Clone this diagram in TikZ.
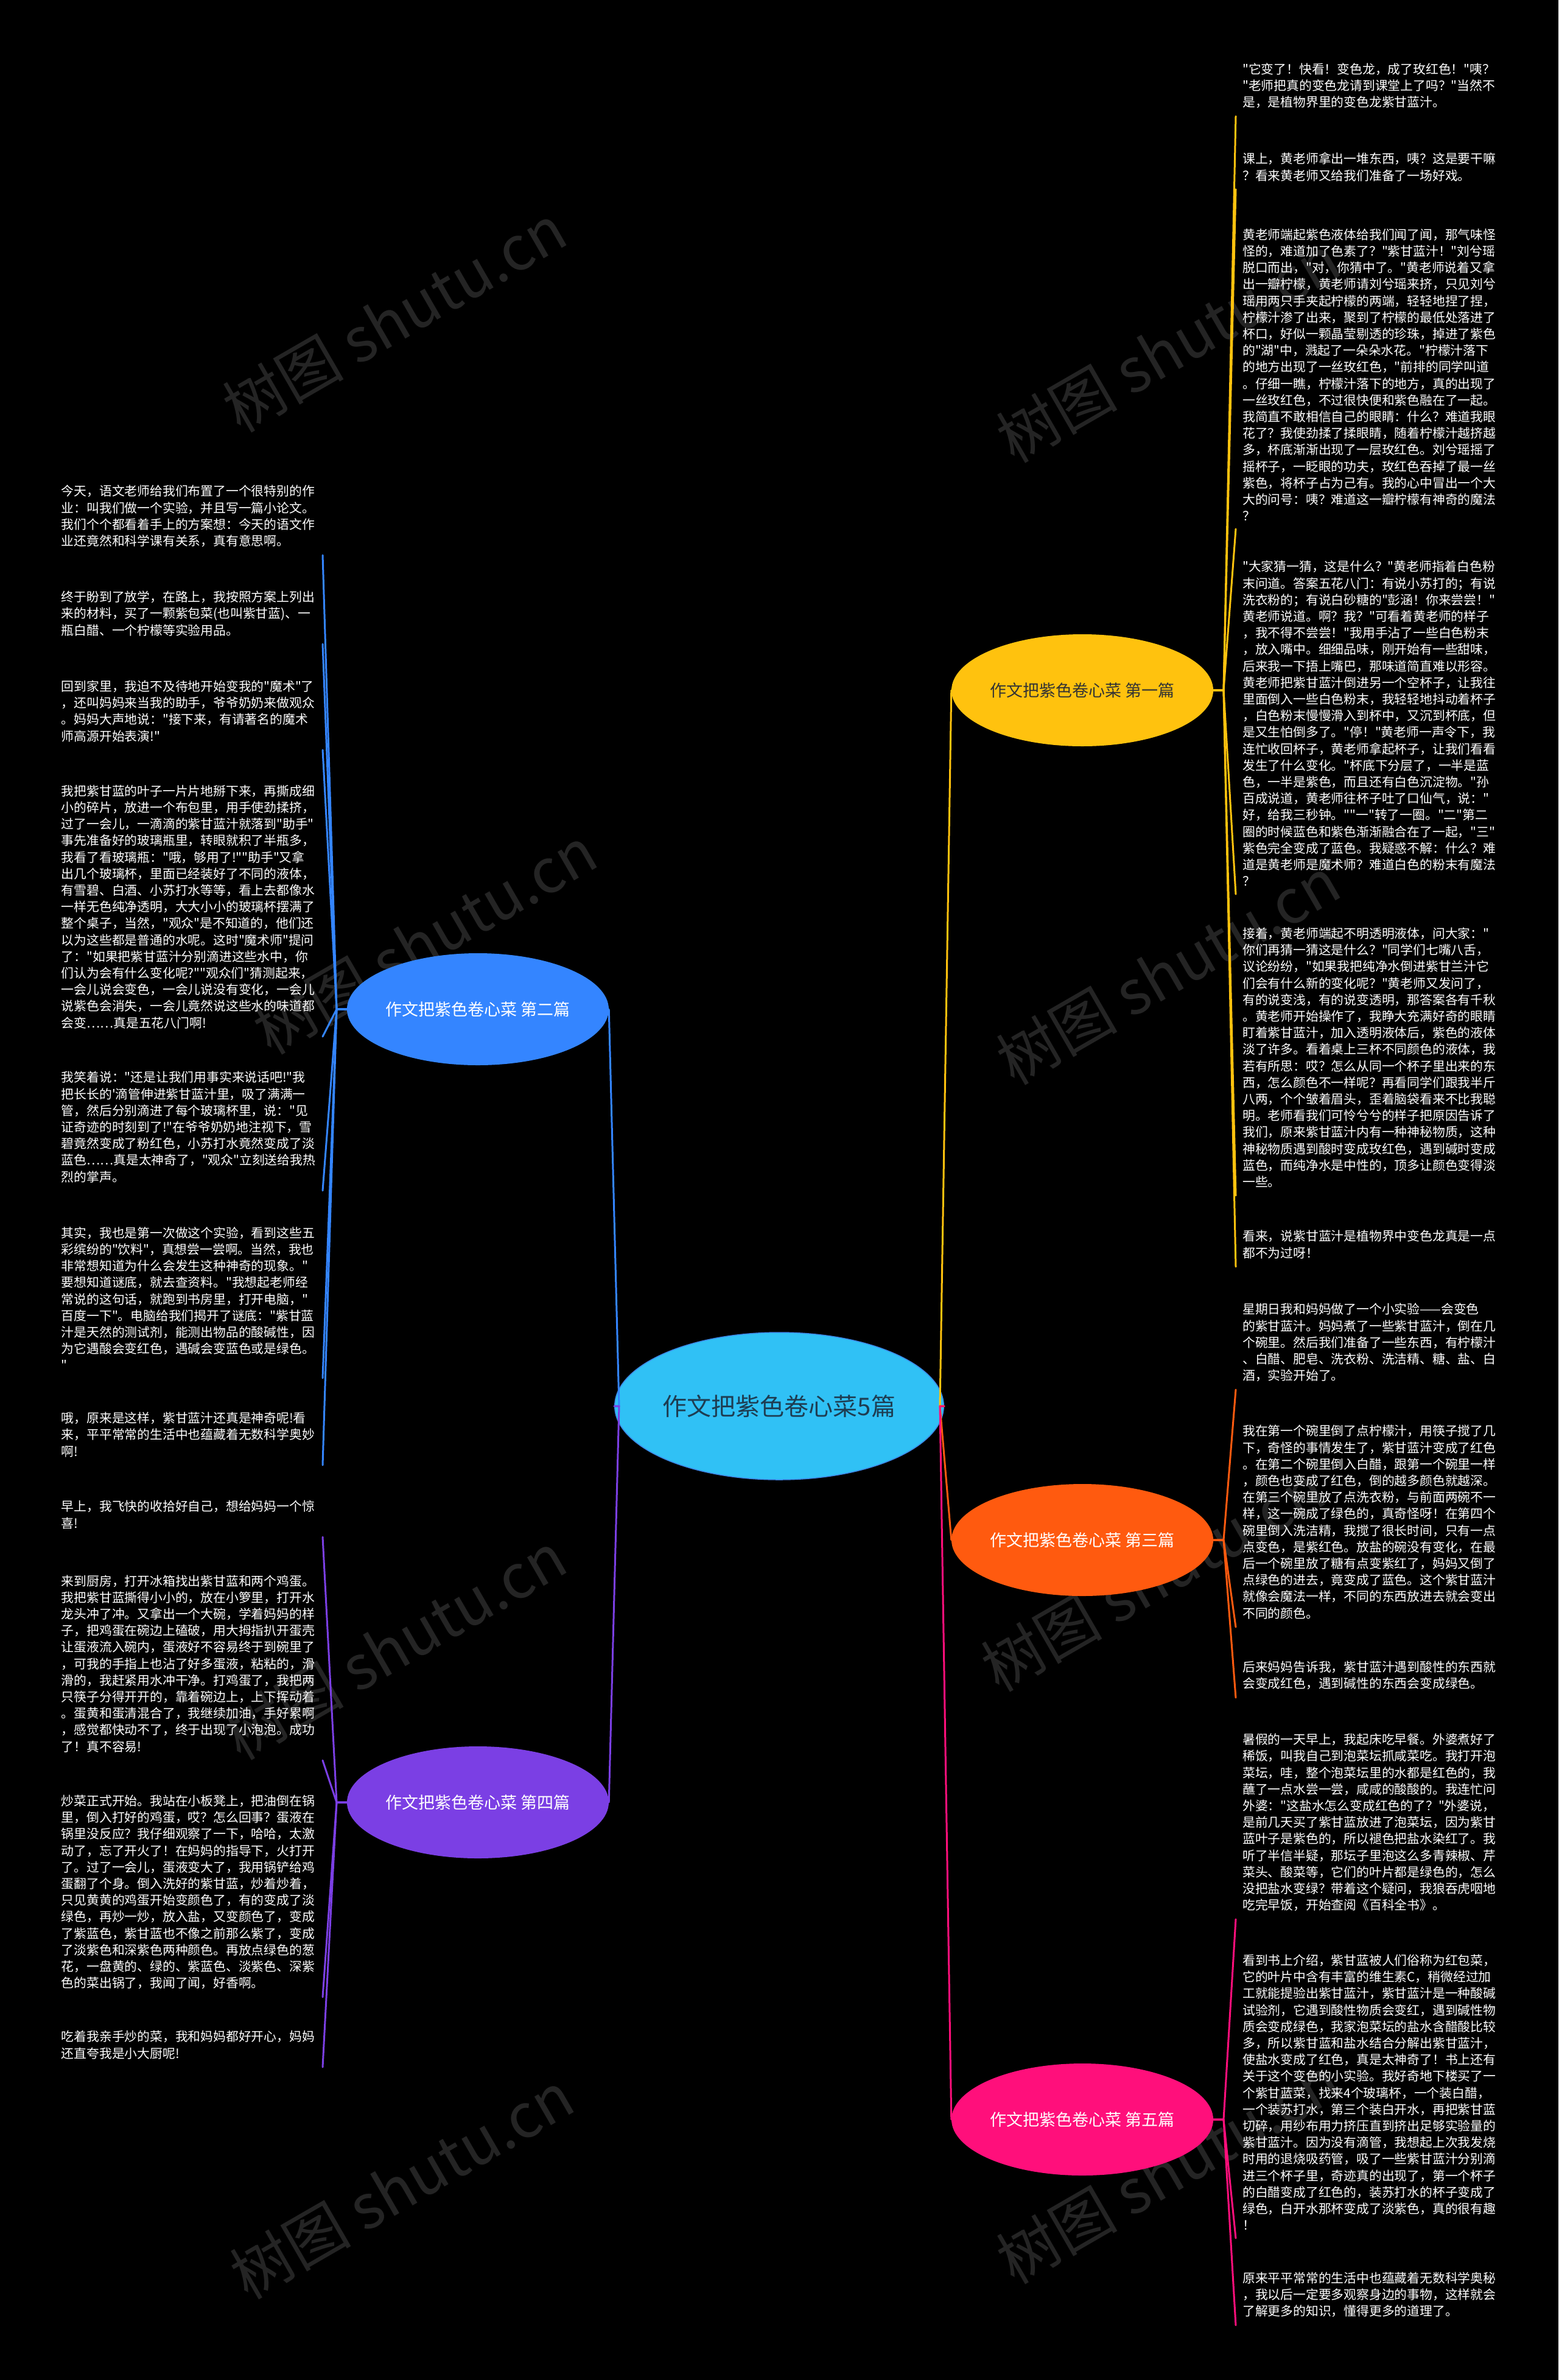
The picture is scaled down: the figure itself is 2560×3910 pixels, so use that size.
\documentclass[tikz,border=0pt]{standalone}
\usepackage{fontspec}
\newfontfamily\cjk{Noto Sans CJK SC}
\usetikzlibrary{shapes.geometric}
\definecolor{cyel}{HTML}{FFC20E}
\definecolor{corg}{HTML}{FF5A0F}
\definecolor{cpnk}{HTML}{FF0F7B}
\definecolor{cblu}{HTML}{3485FF}
\definecolor{cpur}{HTML}{7B3FE4}
\definecolor{croot}{HTML}{30C1F5}
\definecolor{crootb}{HTML}{3C87E6}
\definecolor{ctxt}{HTML}{1E3D52}
\definecolor{cdark}{HTML}{333333}
\definecolor{wmc}{RGB}{36,36,36}
\tikzset{
  leafR/.style={anchor=south west, text width=423pt, inner xsep=11pt, inner ysep=13pt,
    align=left, text=white, font=\cjk\fontsize{20.8}{27.2}\selectfont},
  leafL/.style={leafR, anchor=south east, inner xsep=6pt},
  topic/.style={ellipse, minimum width=430pt, minimum height=184pt, inner sep=0pt,
    font=\cjk\fontsize{27}{32}\selectfont},
  link/.style={line width=3pt, line join=round, line cap=round},
  wmark/.style={text=wmc, rotate=30, font=\cjk\fontsize{100}{100}\selectfont}
}
\begin{document}
\begin{tikzpicture}[x=1pt,y=-1pt]
\useasboundingbox (0,0) rectangle (2560,3910);
\fill[black] (0,0) rectangle (2560,3910);
% watermarks
\node[wmark] (wm1) at (648,523) {树图 shutu.cn};
\node[wmark] (wm2) at (1919,573) {树图 shutu.cn};
\node[wmark] (wm3) at (698,1545) {树图 shutu.cn};
\node[wmark] (wm4) at (1919,1595) {树图 shutu.cn};
\node[wmark] (wm5) at (648,2704) {树图 shutu.cn};
\node[wmark] (wm6) at (1894,2592) {树图 shutu.cn};
\node[wmark] (wm7) at (660,3590) {树图 shutu.cn};
\node[wmark] (wm8) at (1919,3565) {树图 shutu.cn};

% root and topics
\node[ellipse, fill=croot, draw=crootb, line width=1.5pt, minimum width=490pt, minimum height=242pt,
  inner sep=0pt, text=ctxt, font=\cjk\fontsize{40}{44}\selectfont] (root) at (1280,2310) {作文把紫色卷心菜5篇};
\node[topic, fill=cyel, text=cdark] (b1) at (1778,1134) {作文把紫色卷心菜 第一篇};
\node[topic, fill=corg, text=white] (b3) at (1778,2530) {作文把紫色卷心菜 第三篇};
\node[topic, fill=cpnk, text=white] (b5) at (1778,3482) {作文把紫色卷心菜 第五篇};
\node[topic, fill=cblu, text=white] (b2) at (785,1658) {作文把紫色卷心菜 第二篇};
\node[topic, fill=cpur, text=white] (b4) at (785,2961) {作文把紫色卷心菜 第四篇};

% ---------- 第一篇 leaves
\node[leafR] (r1a) at (2030,191) {"它变了！快看！变色龙，成了玫红色！"咦？\\
"老师把真的变色龙请到课堂上了吗？"当然不\\
是，是植物界里的变色龙紫甘蓝汁。};
\node[leafR] (r1b) at (2030,311) {课上，黄老师拿出一堆东西，咦？这是要干嘛\\
？看来黄老师又给我们准备了一场好戏。};
\node[leafR] (r1c) at (2030,869) {黄老师端起紫色液体给我们闻了闻，那气味怪\\
怪的，难道加了色素了？"紫甘蓝汁！"刘兮瑶\\
脱口而出，"对，你猜中了。"黄老师说着又拿\\
出一瓣柠檬，黄老师请刘兮瑶来挤，只见刘兮\\
瑶用两只手夹起柠檬的两端，轻轻地捏了捏，\\
柠檬汁渗了出来，聚到了柠檬的最低处落进了\\
杯口，好似一颗晶莹剔透的珍珠，掉进了紫色\\
的"湖"中，溅起了一朵朵水花。"柠檬汁落下\\
的地方出现了一丝玫红色，"前排的同学叫道\\
。仔细一瞧，柠檬汁落下的地方，真的出现了\\
一丝玫红色，不过很快便和紫色融在了一起。\\
我简直不敢相信自己的眼睛：什么？难道我眼\\
花了？我使劲揉了揉眼睛，随着柠檬汁越挤越\\
多，杯底渐渐出现了一层玫红色。刘兮瑶摇了\\
摇杯子，一眨眼的功夫，玫红色吞掉了最一丝\\
紫色，将杯子占为己有。我的心中冒出一个大\\
大的问号：咦？难道这一瓣柠檬有神奇的魔法\\
？};
\node[leafR] (r1d) at (2030,1469) {"大家猜一猜，这是什么？"黄老师指着白色粉\\
末问道。答案五花八门：有说小苏打的；有说\\
洗衣粉的；有说白砂糖的"彭涵！你来尝尝！"\\
黄老师说道。啊？我？"可看着黄老师的样子\\
，我不得不尝尝！"我用手沾了一些白色粉末\\
，放入嘴中。细细品味，刚开始有一些甜味，\\
后来我一下捂上嘴巴，那味道简直难以形容。\\
黄老师把紫甘蓝汁倒进另一个空杯子，让我往\\
里面倒入一些白色粉末，我轻轻地抖动着杯子\\
，白色粉末慢慢滑入到杯中，又沉到杯底，但\\
是又生怕倒多了。"停！"黄老师一声令下，我\\
连忙收回杯子，黄老师拿起杯子，让我们看看\\
发生了什么变化。"杯底下分层了，一半是蓝\\
色，一半是紫色，而且还有白色沉淀物。"孙\\
百成说道，黄老师往杯子吐了口仙气，说："\\
好，给我三秒钟。""一"转了一圈。"二"第二\\
圈的时候蓝色和紫色渐渐融合在了一起，"三"\\
紫色完全变成了蓝色。我疑惑不解：什么？难\\
道是黄老师是魔术师？难道白色的粉末有魔法\\
？};
\node[leafR] (r1e) at (2030,1964) {接着，黄老师端起不明透明液体，问大家："\\
你们再猜一猜这是什么？"同学们七嘴八舌，\\
议论纷纷，"如果我把纯净水倒进紫甘兰汁它\\
们会有什么新的变化呢？"黄老师又发问了，\\
有的说变浅，有的说变透明，那答案各有千秋\\
。黄老师开始操作了，我睁大充满好奇的眼睛\\
盯着紫甘蓝汁，加入透明液体后，紫色的液体\\
淡了许多。看着桌上三杯不同颜色的液体，我\\
若有所思：哎？怎么从同一个杯子里出来的东\\
西，怎么颜色不一样呢？再看同学们跟我半斤\\
八两，个个皱着眉头，歪着脑袋看来不比我聪\\
明。老师看我们可怜兮兮的样子把原因告诉了\\
我们，原来紫甘蓝汁内有一种神秘物质，这种\\
神秘物质遇到酸时变成玫红色，遇到碱时变成\\
蓝色，而纯净水是中性的，顶多让颜色变得淡\\
一些。};
\node[leafR] (r1f) at (2030,2081) {看来，说紫甘蓝汁是植物界中变色龙真是一点\\
都不为过呀！};

% ---------- 第三篇 leaves
\node[leafR] (r3a) at (2030,2283) {星期日我和妈妈做了一个小实验——会变色\\
的紫甘蓝汁。妈妈煮了一些紫甘蓝汁，倒在几\\
个碗里。然后我们准备了一些东西，有柠檬汁\\
、白醋、肥皂、洗衣粉、洗洁精、糖、盐、白\\
酒，实验开始了。};
\node[leafR] (r3b) at (2030,2673) {我在第一个碗里倒了点柠檬汁，用筷子搅了几\\
下，奇怪的事情发生了，紫甘蓝汁变成了红色\\
。在第二个碗里倒入白醋，跟第一个碗里一样\\
，颜色也变成了红色，倒的越多颜色就越深。\\
在第三个碗里放了点洗衣粉，与前面两碗不一\\
样，这一碗成了绿色的，真奇怪呀！在第四个\\
碗里倒入洗洁精，我搅了很长时间，只有一点\\
点变色，是紫红色。放盐的碗没有变化，在最\\
后一个碗里放了糖有点变紫红了，妈妈又倒了\\
点绿色的进去，竟变成了蓝色。这个紫甘蓝汁\\
就像会魔法一样，不同的东西放进去就会变出\\
不同的颜色。};
\node[leafR] (r3c) at (2030,2789) {后来妈妈告诉我，紫甘蓝汁遇到酸性的东西就\\
会变成红色，遇到碱性的东西会变成绿色。};

% ---------- 第五篇 leaves
\node[leafR] (r5a) at (2030,3153) {暑假的一天早上，我起床吃早餐。外婆煮好了\\
稀饭，叫我自己到泡菜坛抓咸菜吃。我打开泡\\
菜坛，哇，整个泡菜坛里的水都是红色的，我\\
蘸了一点水尝一尝，咸咸的酸酸的。我连忙问\\
外婆："这盐水怎么变成红色的了？"外婆说，\\
是前几天买了紫甘蓝放进了泡菜坛，因为紫甘\\
蓝叶子是紫色的，所以褪色把盐水染红了。我\\
听了半信半疑，那坛子里泡这么多青辣椒、芹\\
菜头、酸菜等，它们的叶片都是绿色的，怎么\\
没把盐水变绿？带着这个疑问，我狼吞虎咽地\\
吃完早饭，开始查阅《百科全书》。};
\node[leafR] (r5b) at (2030,3677) {看到书上介绍，紫甘蓝被人们俗称为红包菜，\\
它的叶片中含有丰富的维生素C，稍微经过加\\
工就能提验出紫甘蓝汁，紫甘蓝汁是一种酸碱\\
试验剂，它遇到酸性物质会变红，遇到碱性物\\
质会变成绿色，我家泡菜坛的盐水含醋酸比较\\
多，所以紫甘蓝和盐水结合分解出紫甘蓝汁，\\
使盐水变成了红色，真是太神奇了！书上还有\\
关于这个变色的小实验。我好奇地下楼买了一\\
个紫甘蓝菜，找来4个玻璃杯，一个装白醋，\\
一个装苏打水，第三个装白开水，再把紫甘蓝\\
切碎，用纱布用力挤压直到挤出足够实验量的\\
紫甘蓝汁。因为没有滴管，我想起上次我发烧\\
时用的退烧吸药管，吸了一些紫甘蓝汁分别滴\\
进三个杯子里，奇迹真的出现了，第一个杯子\\
的白醋变成了红色的，装苏打水的杯子变成了\\
绿色，白开水那杯变成了淡紫色，真的很有趣\\
！};
\node[leafR] (r5c) at (2030,3820) {原来平平常常的生活中也蕴藏着无数科学奥秘\\
，我以后一定要多观察身边的事物，这样就会\\
了解更多的知识，懂得更多的道理了。};

% ---------- 第二篇 leaves
\node[leafL] (l2a) at (530,912) {今天，语文老师给我们布置了一个很特别的作\\
业：叫我们做一个实验，并且写一篇小论文。\\
我们个个都看着手上的方案想：今天的语文作\\
业还竟然和科学课有关系，真有意思啊。};
\node[leafL] (l2b) at (530,1058) {终于盼到了放学，在路上，我按照方案上列出\\
来的材料，买了一颗紫包菜(也叫紫甘蓝)、一\\
瓶白醋、一个柠檬等实验用品。};
\node[leafL] (l2c) at (530,1232) {回到家里，我迫不及待地开始变我的"魔术"了\\
，还叫妈妈来当我的助手，爷爷奶奶来做观众\\
。妈妈大声地说："接下来，有请著名的魔术\\
师高源开始表演!"};
\node[leafL] (l2d) at (530,1703) {我把紫甘蓝的叶子一片片地掰下来，再撕成细\\
小的碎片，放进一个布包里，用手使劲揉挤，\\
过了一会儿，一滴滴的紫甘蓝汁就落到"助手"\\
事先准备好的玻璃瓶里，转眼就积了半瓶多，\\
我看了看玻璃瓶："哦，够用了!""助手"又拿\\
出几个玻璃杯，里面已经装好了不同的液体，\\
有雪碧、白酒、小苏打水等等，看上去都像水\\
一样无色纯净透明，大大小小的玻璃杯摆满了\\
整个桌子，当然，"观众"是不知道的，他们还\\
以为这些都是普通的水呢。这时"魔术师"提问\\
了："如果把紫甘蓝汁分别滴进这些水中，你\\
们认为会有什么变化呢?""观众们"猜测起来，\\
一会儿说会变色，一会儿说没有变化，一会儿\\
说紫色会消失，一会儿竟然说这些水的味道都\\
会变……真是五花八门啊!};
\node[leafL] (l2e) at (530,1956) {我笑着说："还是让我们用事实来说话吧!"我\\
把长长的'滴管伸进紫甘蓝汁里，吸了满满一\\
管，然后分别滴进了每个玻璃杯里，说："见\\
证奇迹的时刻到了!"在爷爷奶奶地注视下，雪\\
碧竟然变成了粉红色，小苏打水竟然变成了淡\\
蓝色……真是太神奇了，"观众"立刻送给我热\\
烈的掌声。};
\node[leafL] (l2f) at (530,2264) {其实，我也是第一次做这个实验，看到这些五\\
彩缤纷的"饮料"，真想尝一尝啊。当然，我也\\
非常想知道为什么会发生这种神奇的现象。"\\
要想知道谜底，就去查资料。"我想起老师经\\
常说的这句话，就跑到书房里，打开电脑，"\\
百度一下"。电脑给我们揭开了谜底："紫甘蓝\\
汁是天然的测试剂，能测出物品的酸碱性，因\\
为它遇酸会变红色，遇碱会变蓝色或是绿色。\\
"};
\node[leafL] (l2g) at (530,2407) {哦，原来是这样，紫甘蓝汁还真是神奇呢!看\\
来，平平常常的生活中也蕴藏着无数科学奥妙\\
啊!};

% ---------- 第四篇 leaves
\node[leafL] (l4a) at (530,2525) {早上，我飞快的收拾好自己，想给妈妈一个惊\\
喜!};
\node[leafL] (l4b) at (530,2892) {来到厨房，打开冰箱找出紫甘蓝和两个鸡蛋。\\
我把紫甘蓝撕得小小的，放在小箩里，打开水\\
龙头冲了冲。又拿出一个大碗，学着妈妈的样\\
子，把鸡蛋在碗边上磕破，用大拇指扒开蛋壳\\
让蛋液流入碗内，蛋液好不容易终于到碗里了\\
，可我的手指上也沾了好多蛋液，粘粘的，滑\\
滑的，我赶紧用水冲干净。打鸡蛋了，我把两\\
只筷子分得开开的，靠着碗边上，上下挥动着\\
。蛋黄和蛋清混合了，我继续加油，手好累啊\\
，感觉都快动不了，终于出现了小泡泡。成功\\
了！真不容易!};
\node[leafL] (l4c) at (530,3281) {炒菜正式开始。我站在小板凳上，把油倒在锅\\
里，倒入打好的鸡蛋，哎？怎么回事？蛋液在\\
锅里没反应？我仔细观察了一下，哈哈，太激\\
动了，忘了开火了！在妈妈的指导下，火打开\\
了。过了一会儿，蛋液变大了，我用锅铲给鸡\\
蛋翻了个身。倒入洗好的紫甘蓝，炒着炒着，\\
只见黄黄的鸡蛋开始变颜色了，有的变成了淡\\
绿色，再炒一炒，放入盐，又变颜色了，变成\\
了紫蓝色，紫甘蓝也不像之前那么紫了，变成\\
了淡紫色和深紫色两种颜色。再放点绿色的葱\\
花，一盘黄的、绿的、紫蓝色、淡紫色、深紫\\
色的菜出锅了，我闻了闻，好香啊。};
\node[leafL] (l4d) at (530,3396) {吃着我亲手炒的菜，我和妈妈都好开心，妈妈\\
还直夸我是小大厨呢!};

% ---------- stubs
\coordinate (rstub) at (1544,2310);
\coordinate (lstub) at (1017,2310);
\coordinate (s1) at (2010,1134);
\coordinate (s3) at (2010,2530);
\coordinate (s5) at (2010,3482);
\coordinate (s2) at (553,1658);
\coordinate (s4) at (553,2961);

% ---------- root connectors
\draw[link, cblu] (root.west) -- (lstub) -- (b2.east);
\draw[link, cpur] (root.west) -- (lstub) -- (b4.east);
\draw[link, cyel] (root.east) -- (rstub) -- (b1.west);
\draw[link, corg] (root.east) -- (rstub) -- (b3.west);
\draw[link, cpnk] (root.east) -- (rstub) -- (b5.west);

% ---------- leaf connectors
\foreach \l in {r1a,r1b,r1c,r1d,r1e,r1f}
  \draw[link, cyel] (b1.east) -- (s1) -- (\l.south west);
\foreach \l in {r3a,r3b,r3c}
  \draw[link, corg] (b3.east) -- (s3) -- (\l.south west);
\foreach \l in {r5a,r5b,r5c}
  \draw[link, cpnk] (b5.east) -- (s5) -- (\l.south west);
\foreach \l in {l2a,l2b,l2c,l2d,l2e,l2f,l2g}
  \draw[link, cblu] (b2.west) -- (s2) -- (\l.south east);
\foreach \l in {l4a,l4b,l4c,l4d}
  \draw[link, cpur] (b4.west) -- (s4) -- (\l.south east);
\end{tikzpicture}
\end{document}
